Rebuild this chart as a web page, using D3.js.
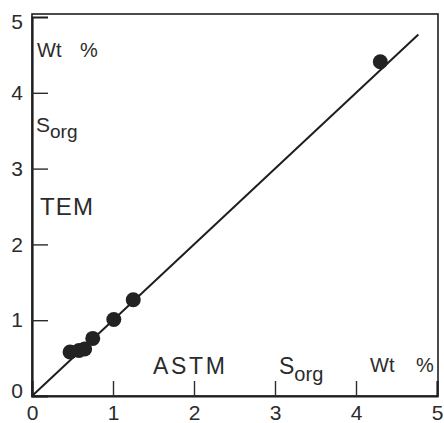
<!DOCTYPE html>
<html>
<head>
<meta charset="utf-8">
<script src="https://cdn.jsdelivr.net/npm/d3@7"></script>
<style>
  body { margin: 0; background: #fff; }
  svg text { font-family: "Liberation Sans", Arial, sans-serif; fill: #2b2b2b; }
</style>
</head>
<body>
<div id="chart"></div>
<script>
// Sorg by ASTM (x) vs Sorg by TEM (y), wt %
const astm = [0.47, 0.58, 0.65, 0.75, 1.01, 1.25, 4.30];
const tem  = [0.58, 0.60, 0.62, 0.76, 1.01, 1.27, 4.41];
const xTicks = [0, 1, 2, 3, 4, 5];
const yTicks = [0, 1, 2, 3, 4, 5];
const fitLine = [0, 4.77];   // 1:1 line end points

const width = 444, height = 423;
const margin = { top: 14, right: 6, bottom: 27, left: 32 };

const svg = d3.select("#chart")
  .append("svg")
  .attr("width", width)
  .attr("height", height);

const x = d3.scaleLinear().domain([0, 5]).range([32, 437]);
const y = d3.scaleLinear().domain([0, 5]).range([396, 17]);

// frame
svg.append("rect")
  .attr("x", margin.left)
  .attr("y", margin.top)
  .attr("width", width - margin.left - margin.right)
  .attr("height", height - margin.top - margin.bottom)
  .attr("fill", "none")
  .attr("stroke", "#1e1e1e")
  .attr("stroke-width", 1.6);

// axes with inward ticks
const xAxis = svg.append("g")
  .attr("transform", `translate(0,${y(0)})`)
  .call(d3.axisBottom(x).tickValues(xTicks).tickSize(-15).tickPadding(9).tickFormat(d3.format("d")));

const yAxis = svg.append("g")
  .attr("transform", `translate(${x(0)},0)`)
  .call(d3.axisLeft(y).tickValues(yTicks).tickSize(-16).tickPadding(9).tickFormat(d3.format("d")));

[xAxis, yAxis].forEach(g => {
  g.select(".domain").attr("stroke", "#1e1e1e").attr("stroke-width", 2.2);
  g.selectAll(".tick line").attr("stroke", "#2b2b2b").attr("stroke-width", 1.4);
  g.selectAll(".tick text").attr("font-size", 21).attr("fill", "#2b2b2b")
    .style("font-family", "'Liberation Sans', Arial, sans-serif");
});
// hide tick marks that sit on the frame
xAxis.selectAll(".tick").filter(d => d === 0 || d === 5).select("line").remove();
yAxis.selectAll(".tick").filter(d => d === 0 || d === 5).select("line").remove();
yAxis.selectAll(".tick").filter(d => d === 0).select("text").attr("dy", "0.05em");
yAxis.selectAll(".tick").filter(d => d === 5).select("text").attr("dy", "0.55em");

// 1:1 line
svg.append("line")
  .attr("x1", x(fitLine[0])).attr("y1", y(fitLine[0]))
  .attr("x2", x(fitLine[1])).attr("y2", y(fitLine[1]))
  .attr("stroke", "#1e1e1e")
  .attr("stroke-width", 2);

// points
svg.append("g")
  .selectAll("circle")
  .data(astm.map((d, i) => [d, tem[i]]))
  .join("circle")
  .attr("cx", d => x(d[0]))
  .attr("cy", d => y(d[1]))
  .attr("r", 7.5)
  .attr("fill", "#222");

// annotations
function label(txt, px, py, size, len) {
  const t = svg.append("text")
    .attr("x", px).attr("y", py)
    .attr("font-size", size)
    .text(txt);
  if (len) t.attr("textLength", len).attr("lengthAdjust", "spacing");
  return t;
}
function sorg(px, py, size, subSize) {
  const t = svg.append("text").attr("x", px).attr("y", py).attr("font-size", size);
  t.append("tspan").text("S");
  t.append("tspan").attr("dy", size * 0.3).attr("font-size", subSize).text("org");
}
function wt(px, py, size, gap) {
  const t = svg.append("text").attr("x", px).attr("y", py).attr("font-size", size);
  t.append("tspan").text("Wt");
  t.append("tspan").attr("x", px + gap).text("%");
}

wt(37, 57, 20, 43);
sorg(36, 132, 21, 19);
label("TEM", 40, 215, 24, 53);
label("ASTM", 153, 374, 23, 72);
sorg(279, 374, 23, 20);
wt(370, 372, 20, 46);
</script>
</body>
</html>
